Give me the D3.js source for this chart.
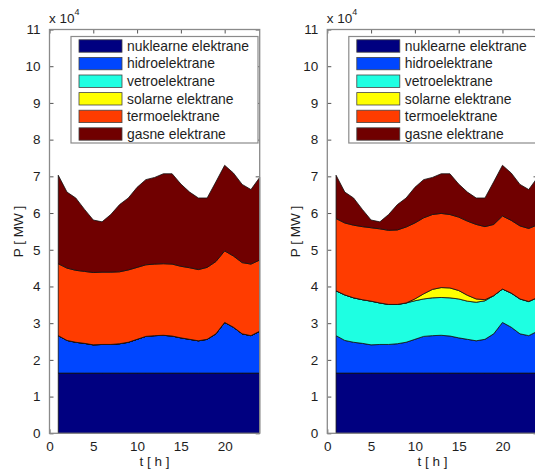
<!DOCTYPE html>
<html>
<head>
<meta charset="utf-8">
<script src="https://cdn.jsdelivr.net/npm/d3@7"></script>
<style>
  html, body { margin: 0; padding: 0; background: #fff; }
  svg { display: block; font-family: "Liberation Sans", Arial, sans-serif; }
</style>
</head>
<body>
<svg id="chart" width="535" height="472"></svg>
<script>
// Hourly generation mix (MW), two scenarios side by side
const hours = [1, 2, 3, 4, 5, 6, 7, 8, 9, 10, 11, 12, 13, 14, 15, 16, 17, 18, 19, 20, 21, 22, 23, 24];

const seriesNames = ["nuklearne elektrane", "hidroelektrane", "vetroelektrane",
                     "solarne elektrane", "termoelektrane", "gasne elektrane"];
const seriesColors = ["#000080", "#0046ff", "#1effe2", "#ffff00", "#ff3c00", "#700000"];

const nuclear = [16400, 16400, 16400, 16400, 16400, 16400, 16400, 16400, 16400, 16400, 16400, 16400,
                 16400, 16400, 16400, 16400, 16400, 16400, 16400, 16400, 16400, 16400, 16400, 16400];
const hydro = [10200, 8900, 8400, 8100, 7700, 7800, 7800, 8000, 8400, 9200, 10000, 10200,
               10300, 10100, 9600, 9200, 8800, 9200, 10700, 13800, 12500, 10700, 10200, 11400];

// scenario without wind and solar
const windBase = [0, 0, 0, 0, 0, 0, 0, 0, 0, 0, 0, 0, 0, 0, 0, 0, 0, 0, 0, 0, 0, 0, 0, 0];
const solarBase = [0, 0, 0, 0, 0, 0, 0, 0, 0, 0, 0, 0, 0, 0, 0, 0, 0, 0, 0, 0, 0, 0, 0, 0];
const thermoBase = [19600, 19700, 19600, 19600, 19700, 19700, 19700, 19600, 19700, 19600, 19500, 19500,
                    19500, 19600, 19500, 19500, 19400, 19600, 19700, 19500, 19400, 19400, 19500, 19400];
const gasBase = [24100, 20700, 19700, 16900, 14300, 13700, 15700, 18300, 19600, 21800, 23200, 23600,
                 24500, 24600, 22400, 20600, 19500, 18900, 21700, 23300, 22600, 21300, 20300, 22500];

// scenario with wind and solar
const windRES = [12200, 12400, 12100, 11900, 11900, 11300, 10900, 10700, 10700, 10500, 10200, 10300,
                 10300, 10400, 10600, 10400, 10500, 10500, 10400, 9100, 9300, 9500, 9300, 9200];
const solarRES = [0, 0, 0, 0, 0, 0, 0, 0, 0, 500, 1400, 2300,
                  2700, 2700, 2300, 1600, 900, 300, 0, 0, 0, 0, 0, 0];
const thermoRES = [19700, 19600, 19800, 19900, 20000, 20200, 20200, 20300, 20700, 20700, 20700, 20400,
                   20200, 20000, 20000, 20200, 20300, 19900, 19400, 19900, 19800, 19900, 19900, 19800];
const gasRES = [11800, 8400, 7400, 4700, 2100, 1900, 4300, 6900, 7900, 9700, 10400, 10100,
                10800, 11100, 9000, 7900, 7200, 7800, 11600, 13800, 12900, 11300, 10600, 12900];

const xTicks = [0, 5, 10, 15, 20];
const yTicks = [0, 1, 2, 3, 4, 5, 6, 7, 8, 9, 10, 11];
const yExponent = 4;
const xLabel = "t [ h ]";
const yLabel = "P [ MW ]";

const svg = d3.select("#chart");
const keys = ["nuclear", "hydro", "wind", "solar", "thermo", "gas"];

function buildRows(wind, solar, thermo, gas) {
  return hours.map((h, i) => ({
    hour: h, nuclear: nuclear[i], hydro: hydro[i], wind: wind[i],
    solar: solar[i], thermo: thermo[i], gas: gas[i]
  }));
}

const panels = [
  { left: 49.5, rows: buildRows(windBase, solarBase, thermoBase, gasBase) },
  { left: 327.3, rows: buildRows(windRES, solarRES, thermoRES, gasRES) }
];

const plotW = 210.2, plotTop = 29.5, plotBottom = 433.3;
const scale = Math.pow(10, yExponent);
const textColor = "#1e1e1e";

panels.forEach(p => {
  const g = svg.append("g");
  const x = d3.scaleLinear().domain([0, 24]).range([p.left, p.left + plotW]);
  const y = d3.scaleLinear().domain([0, 11 * scale]).range([plotBottom, plotTop]);

  // inward ticks (drawn beneath the data)
  const axisColor = "#8a8a8a";
  const tickG = g.append("g");
  tickG.append("g").attr("transform", `translate(0,${plotBottom})`)
    .call(d3.axisBottom(x).tickValues(xTicks).tickSizeInner(-4).tickSizeOuter(0).tickPadding(8).tickFormat(d3.format("d")));
  tickG.append("g").attr("transform", `translate(0,${plotTop})`)
    .call(d3.axisTop(x).tickValues(xTicks).tickSizeInner(-4).tickSizeOuter(0).tickFormat(""));
  tickG.append("g").attr("transform", `translate(${p.left},0)`)
    .call(d3.axisLeft(y).tickValues(yTicks.map(v => v * scale)).tickSizeInner(-4).tickSizeOuter(0).tickPadding(9)
      .tickFormat(v => d3.format("d")(v / scale)));
  tickG.append("g").attr("transform", `translate(${p.left + plotW},0)`)
    .call(d3.axisRight(y).tickValues(yTicks.map(v => v * scale)).tickSizeInner(-4).tickSizeOuter(0).tickFormat(""));
  tickG.selectAll(".domain").remove();
  tickG.selectAll(".tick line").attr("stroke", "#555").attr("stroke-width", 1);
  tickG.selectAll(".tick text").attr("fill", textColor).style("font-size", "13.5px")
    .style("font-family", "'Liberation Sans', Arial, sans-serif");

  // stacked areas
  const stacked = d3.stack().keys(keys)(p.rows);
  const area = d3.area()
    .x(d => x(d.data.hour))
    .y0(d => y(d[0]))
    .y1(d => y(d[1]));
  g.append("g").selectAll("path")
    .data(stacked)
    .join("path")
    .attr("d", area)
    .attr("fill", (d, i) => seriesColors[i])
    .attr("stroke", "#111")
    .attr("stroke-width", 0.8)
    .attr("stroke-linejoin", "round");

  // axes box
  g.append("rect")
    .attr("x", p.left).attr("y", plotTop)
    .attr("width", plotW).attr("height", plotBottom - plotTop)
    .attr("fill", "none").attr("stroke", axisColor).attr("stroke-width", 1.3);

  // exponent label
  const ex = g.append("text").attr("x", p.left - 0.5).attr("y", 23.3)
    .attr("fill", textColor).style("font-size", "13.5px");
  ex.append("tspan").text("x 10");
  ex.append("tspan").attr("dy", -8).style("font-size", "9px").text(yExponent);

  // axis titles
  g.append("text")
    .attr("x", (x.range()[0] + x.range()[1]) / 2).attr("y", 466)
    .attr("text-anchor", "middle").attr("fill", textColor).style("font-size", "13.5px")
    .text(xLabel);
  g.append("text")
    .attr("transform", `translate(${p.left - 27},${(plotTop + plotBottom) / 2}) rotate(-90)`)
    .attr("text-anchor", "middle").attr("fill", textColor).style("font-size", "13.5px")
    .text(yLabel);

  // legend
  const lg = g.append("g").attr("transform", `translate(${p.left + 21.5},36.5)`);
  lg.append("rect").attr("width", 187).attr("height", 106.5)
    .attr("fill", "#fff").attr("stroke", axisColor).attr("stroke-width", 1.2);
  seriesNames.forEach((name, i) => {
    const row = lg.append("g").attr("transform", `translate(0,${9.5 + i * 17.6})`);
    row.append("rect").attr("x", 8).attr("y", -6.2).attr("width", 43).attr("height", 12.4)
      .attr("fill", seriesColors[i]).attr("stroke", "#444").attr("stroke-width", 0.8);
    row.append("text").attr("x", 56).attr("y", 0).attr("dy", "0.35em")
      .attr("fill", textColor).style("font-size", "13.9px").text(name);
  });
});
</script>
</body>
</html>
